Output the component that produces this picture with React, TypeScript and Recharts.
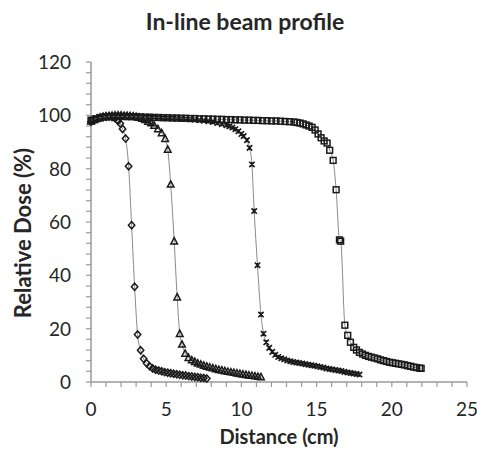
import React from "react";
import {
    ScatterChart,
    Scatter,
    XAxis,
    YAxis,
    Label,
} from "recharts";

// measured profiles, [distance cm, relative dose %]
const diamondProfile: [number, number][] = [
    [0, 97.6], [0.2, 98.1], [0.4, 98.6], [0.6, 99.0], [0.8, 99.3], [1.0, 99.5],
    [1.2, 99.6], [1.4, 99.4], [1.6, 98.9], [1.8, 97.9], [1.95, 96.9], [2.1, 94.9],
    [2.3, 91.3], [2.5, 80.9], [2.7, 58.8], [2.9, 35.7], [3.1, 17.8], [3.3, 11.9],
    [3.5, 8.7], [3.7, 7.0], [3.9, 5.9], [4.1, 5.1], [4.3, 4.6], [4.5, 4.3],
    [4.7, 4.0], [4.9, 3.7], [5.1, 3.5], [5.3, 3.3], [5.5, 3.1], [5.7, 2.9],
    [5.9, 2.7], [6.1, 2.5], [6.3, 2.4], [6.5, 2.2], [6.7, 2.1], [6.9, 1.9],
    [7.1, 1.8], [7.3, 1.6], [7.5, 1.5], [7.7, 1.3],
];

const triangleProfile: [number, number][] = [
    [0, 97.8], [0.2, 98.3], [0.4, 98.8], [0.6, 99.2], [0.8, 99.5], [1.0, 99.7],
    [1.2, 99.8], [1.4, 99.9], [1.6, 100], [1.8, 100], [2.0, 100], [2.2, 99.9],
    [2.4, 99.9], [2.6, 99.8], [2.8, 99.7], [3.0, 99.5], [3.2, 99.2], [3.4, 98.8],
    [3.6, 98.3], [3.8, 97.7], [4.0, 97.1], [4.2, 96.2], [4.45, 94.9], [4.7, 93.4],
    [4.93, 91.2], [5.1, 87.2], [5.3, 74.1], [5.53, 52.8], [5.73, 31.8], [5.9, 18.1],
    [6.05, 14.1], [6.26, 10.7], [6.48, 9.1], [6.7, 8.2], [6.9, 7.6], [7.1, 7.0],
    [7.3, 6.6], [7.5, 6.2], [7.7, 5.8], [7.9, 5.5], [8.1, 5.2], [8.3, 4.9],
    [8.5, 4.6], [8.7, 4.4], [8.9, 4.1], [9.1, 3.9], [9.3, 3.7], [9.5, 3.5],
    [9.7, 3.3], [9.9, 3.1], [10.1, 2.9], [10.3, 2.7], [10.5, 2.5], [10.7, 2.4],
    [10.9, 2.2], [11.1, 2.0], [11.3, 1.9],
];

const crossProfile: [number, number][] = [
    [0, 98.0], [0.3, 98.6], [0.6, 99.1], [0.9, 99.4], [1.2, 99.6], [1.5, 99.7],
    [1.8, 99.8], [2.1, 99.8], [2.4, 99.8], [2.7, 99.7], [3.0, 99.7], [3.3, 99.6],
    [3.6, 99.5], [3.9, 99.4], [4.2, 99.3], [4.5, 99.2], [4.8, 99.1], [5.1, 99.0],
    [5.4, 98.9], [5.7, 98.8], [6.0, 98.7], [6.3, 98.6], [6.6, 98.5], [6.9, 98.4],
    [7.2, 98.2], [7.5, 98.0], [7.8, 97.8], [8.1, 97.5], [8.4, 97.1], [8.7, 96.7],
    [9.0, 96.3], [9.2, 95.9], [9.4, 95.4], [9.6, 94.8], [9.8, 94.0], [10.0, 93.0],
    [10.15, 92.2], [10.37, 90.7], [10.54, 87.8], [10.7, 81.6], [10.85, 64.1], [11.07, 43.8],
    [11.3, 25.3], [11.47, 18.1], [11.65, 14.9], [11.85, 12.8], [12.05, 11.3], [12.25, 10.2],
    [12.45, 9.4], [12.65, 8.9], [12.85, 8.5], [13.05, 8.1], [13.25, 7.8], [13.45, 7.5],
    [13.65, 7.3], [13.85, 7.1], [14.05, 6.9], [14.25, 6.7], [14.45, 6.5], [14.65, 6.3],
    [14.85, 6.1], [15.05, 5.9], [15.25, 5.6], [15.45, 5.4], [15.65, 5.1], [15.85, 4.9],
    [16.05, 4.7], [16.25, 4.5], [16.45, 4.3], [16.65, 4.1], [16.85, 3.8], [17.05, 3.6],
    [17.25, 3.4], [17.45, 3.2], [17.65, 3.0], [17.85, 2.8],
];

const squareProfile: [number, number][] = [
    [0, 98.2], [0.3, 98.7], [0.6, 99.1], [0.9, 99.4], [1.2, 99.5], [1.5, 99.6],
    [1.8, 99.6], [2.1, 99.6], [2.4, 99.5], [2.7, 99.5], [3.0, 99.4], [3.3, 99.4],
    [3.6, 99.3], [3.9, 99.3], [4.2, 99.2], [4.5, 99.2], [4.8, 99.1], [5.1, 99.1],
    [5.4, 99.0], [5.7, 99.0], [6.0, 98.9], [6.3, 98.9], [6.6, 98.8], [6.9, 98.8],
    [7.2, 98.7], [7.5, 98.7], [7.8, 98.6], [8.1, 98.6], [8.4, 98.5], [8.7, 98.5],
    [9.0, 98.4], [9.3, 98.4], [9.6, 98.3], [9.9, 98.3], [10.2, 98.2], [10.5, 98.2],
    [10.8, 98.1], [11.1, 98.1], [11.4, 98.0], [11.7, 98.0], [12.0, 97.9], [12.3, 97.9],
    [12.6, 97.8], [12.9, 97.7], [13.2, 97.6], [13.5, 97.5], [13.7, 97.3], [13.9, 97.1],
    [14.1, 96.8], [14.3, 96.4], [14.5, 96.0], [14.7, 95.5], [14.9, 94.5], [15.1, 93.0],
    [15.3, 91.6], [15.5, 90.4], [15.7, 89.6], [15.87, 86.9], [16.1, 83.1], [16.3, 72.1],
    [16.52, 53.3], [16.6, 52.8], [16.88, 21.3], [17.07, 17.5], [17.25, 14.9], [17.47, 13.0],
    [17.65, 12.0], [17.85, 11.1], [18.05, 10.5], [18.25, 10.0], [18.45, 9.6], [18.65, 9.3],
    [18.85, 9.0], [19.05, 8.7], [19.25, 8.3], [19.45, 8.0], [19.65, 7.7], [19.85, 7.4],
    [20.05, 7.2], [20.25, 7.0], [20.45, 6.8], [20.65, 6.6], [20.85, 6.4], [21.05, 6.1],
    [21.25, 5.9], [21.45, 5.6], [21.65, 5.4], [21.85, 5.2], [21.95, 5.1],
];

const xTicks = [0, 1, 2, 3, 4, 5, 6, 7, 8, 9, 10, 11, 12, 13, 14, 15, 16, 17, 18, 19, 20, 21, 22, 23, 24, 25];
const yTicks = [0, 4, 8, 12, 16, 20, 24, 28, 32, 36, 40, 44, 48, 52, 56, 60, 64, 68, 72, 76, 80, 84, 88, 92, 96, 100, 104, 108, 112, 116, 120];

const FONT = "Lato, 'Open Sans', sans-serif";
const TEXT = "#262626";
const AXIS = "#9a9a9a";
const MARK = "#1a1a1a";
const FIT = "#8a8a8a";

const toPoints = (rows: [number, number][]) => rows.map(([x, y]) => ({ x, y }));

const Diamond = ({ cx, cy }: any) => (
    <path d={`M${cx},${cy - 3.6}L${cx + 3.2},${cy}L${cx},${cy + 3.6}L${cx - 3.2},${cy}Z`}
        fill="none" stroke={MARK} strokeWidth={1.5} />
);
const Triangle = ({ cx, cy }: any) => (
    <path d={`M${cx},${cy - 3.6}L${cx + 3.3},${cy + 2.7}L${cx - 3.3},${cy + 2.7}Z`}
        fill="none" stroke={MARK} strokeWidth={1.5} />
);
const Cross = ({ cx, cy }: any) => (
    <path d={`M${cx - 2.7},${cy - 2.7}L${cx + 2.7},${cy + 2.7}M${cx + 2.7},${cy - 2.7}L${cx - 2.7},${cy + 2.7}M${cx},${cy - 2.2}L${cx},${cy + 2.2}`}
        fill="none" stroke={MARK} strokeWidth={1.6} />
);
const Square = ({ cx, cy }: any) => (
    <rect x={cx - 2.9} y={cy - 2.9} width={5.8} height={5.8}
        fill="none" stroke={MARK} strokeWidth={1.5} />
);

const XTick = ({ x, y, payload }: any) =>
    payload.value % 5 === 0 ? (
        <text x={x} y={y} dy="0.75em" textAnchor="middle" fontSize={19} fontFamily={FONT} fill={TEXT}>
            {payload.value}
        </text>
    ) : <g />;

const YTick = ({ x, y, payload }: any) =>
    payload.value % 20 === 0 ? (
        <text x={x} y={y} dy="0.36em" textAnchor="end" fontSize={19} fontFamily={FONT} fill={TEXT}>
            {payload.value}
        </text>
    ) : <g />;

const series = [
    { name: "diamond", rows: diamondProfile, shape: Diamond },
    { name: "triangle", rows: triangleProfile, shape: Triangle },
    { name: "cross", rows: crossProfile, shape: Cross },
    { name: "square", rows: squareProfile, shape: Square },
];

export default function App() {
    return (
        <div style={{ position: "absolute", left: 0, top: 0, width: 477, height: 456, background: "#fff" }}>
            <div style={{
                position: "absolute", left: 0, width: 490, top: 7, textAlign: "center",
                fontFamily: FONT, fontWeight: 700, fontSize: 23, color: TEXT, lineHeight: "28px",
            }}>
                In-line beam profile
            </div>
            <ScatterChart width={477} height={456} margin={{ top: 62, right: 10, bottom: 0, left: 0 }}>
                <XAxis type="number" dataKey="x" domain={[0, 25]} ticks={xTicks} interval={0}
                    height={74} stroke={AXIS} strokeWidth={1.5} tickSize={5} tickMargin={15}
                    tick={<XTick />} tickLine={{ stroke: AXIS, strokeWidth: 1.2 }}>
                    <Label content={() => (
                        <text x={279} y={444} textAnchor="middle" fontSize={20} fontWeight={700}
                            fontFamily={FONT} fill={TEXT}>Distance (cm)</text>
                    )} />
                </XAxis>
                <YAxis type="number" dataKey="y" domain={[0, 120]} ticks={yTicks} interval={0}
                    width={91} stroke={AXIS} strokeWidth={1.5} tickSize={5} tickMargin={15}
                    tick={<YTick />} tickLine={{ stroke: AXIS, strokeWidth: 1.2 }}>
                    <Label content={() => (
                        <text x={31} y={233} transform="rotate(-90 31 233)" textAnchor="middle"
                            fontSize={22} fontWeight={700} fontFamily={FONT} fill={TEXT}>Relative Dose (%)</text>
                    )} />
                </YAxis>
                {series.map((s) => (
                    <Scatter key={s.name} name={s.name} data={toPoints(s.rows)}
                        line={{ stroke: FIT, strokeWidth: 1 }} lineJointType="monotoneX"
                        shape={s.shape} isAnimationActive={false} />
                ))}
            </ScatterChart>
        </div>
    );
}
